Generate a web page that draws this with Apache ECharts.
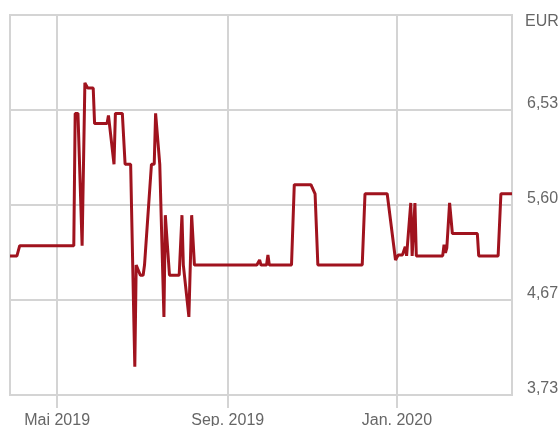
<!DOCTYPE html>
<html lang="de">
<head>
<meta charset="UTF-8">
<title>Kursverlauf</title>
<script src="https://cdn.jsdelivr.net/npm/echarts@6/dist/echarts.min.js"></script>
<style>
  html, body { margin: 0; padding: 0; background: #fff; }
  #box { width: 560px; height: 426px; }
</style>
</head>
<body>
<div id="box"></div>
<script>
    // Kursdaten (Datum, Kurs in EUR)
    var dates = [
        '2019-03-28','2019-04-02','2019-04-04','2019-05-13','2019-05-14','2019-05-16',
        '2019-05-19','2019-05-21','2019-05-22','2019-05-23','2019-05-27','2019-05-28',
        '2019-06-06','2019-06-07','2019-06-11','2019-06-12','2019-06-17','2019-06-19',
        '2019-06-23','2019-06-26','2019-06-27','2019-06-30','2019-07-02','2019-07-03',
        '2019-07-08','2019-07-10','2019-07-11','2019-07-14','2019-07-17','2019-07-18',
        '2019-07-21','2019-07-28','2019-07-30','2019-07-31','2019-08-04','2019-08-06',
        '2019-08-08','2019-09-22','2019-09-24','2019-09-25','2019-09-29','2019-09-30',
        '2019-10-01','2019-10-17','2019-10-19','2019-10-31','2019-11-03','2019-11-05',
        '2019-12-07','2019-12-09','2019-12-25','2019-12-31','2020-01-02','2020-01-05',
        '2020-01-07','2020-01-08','2020-01-11','2020-01-12','2020-01-14','2020-01-15',
        '2020-02-03','2020-02-04','2020-02-05','2020-02-06','2020-02-08','2020-02-10',
        '2020-02-28','2020-02-29','2020-03-14','2020-03-16','2020-03-24'
    ];
    var prices = [
        5.10, 5.10, 5.20, 5.20, 6.50, 6.50,
        5.20, 6.80, 6.80, 6.75, 6.75, 6.40,
        6.40, 6.48, 6.00, 6.50, 6.50, 6.00,
        6.00, 4.01, 5.01, 4.91, 4.91, 5.01,
        6.00, 6.00, 6.50, 6.00, 4.50, 5.50,
        4.91, 4.91, 5.50, 5.01, 4.50, 5.50,
        5.01, 5.01, 5.06, 5.01, 5.01, 5.11,
        5.01, 5.01, 5.80, 5.80, 5.71, 5.01,
        5.01, 5.71, 5.71, 5.06, 5.11, 5.11,
        5.19, 5.10, 5.62, 5.10, 5.62, 5.10,
        5.10, 5.21, 5.13, 5.18, 5.62, 5.32,
        5.32, 5.10, 5.10, 5.71, 5.71
    ];
    // Achsenbeschriftungen
    var xTickDates = ['2019-05-01', '2019-09-01', '2020-01-01'];
    var xTickLabels = ['Mai 2019', 'Sep. 2019', 'Jan. 2020'];
    var yStep = 2.8 / 3;   // 0,9333 EUR
    var yMin = 4 * yStep;  // 3,73
    var yMax = 8 * yStep;  // 7,47

    var xMin = new Date('2019-03-28').getTime();
    var xMax = new Date('2020-03-24').getTime();
    var tickTimes = xTickDates.map(function (d) { return new Date(d).getTime(); });

    var seriesData = [];
    for (var i = 0; i < dates.length; i++)
        seriesData.push([new Date(dates[i]).getTime(), prices[i]]);

    var gridColor = '#d4d4d4';
    var labelColor = '#666666';
    var font = 'Liberation Sans, Arial, sans-serif';

    var myChart = echarts.init(document.getElementById('box'));
    var option = {
        animation: false,
        grid: {
            left: 10, right: 48, top: 15, bottom: 31,
            containLabel: false,
            outerBoundsMode: 'none',
            show: true, borderColor: gridColor, borderWidth: 2
        },
        xAxis: {
            // Zeitstempel auf einer Wertachse, damit die Monatsmarken frei wählbar sind
            type: 'value',
            min: xMin,
            max: xMax,
            axisLine: { show: false },
            axisTick: {
                show: true, length: 13, customValues: tickTimes,
                lineStyle: { color: gridColor, width: 2 }
            },
            axisLabel: {
                customValues: tickTimes,
                margin: 18,
                color: labelColor,
                fontSize: 16,
                fontFamily: font,
                formatter: function (v) {
                    var idx = tickTimes.indexOf(v);
                    return idx >= 0 ? xTickLabels[idx] : '';
                }
            },
            splitLine: { show: true, lineStyle: { color: gridColor, width: 2 } }
        },
        yAxis: {
            type: 'value',
            position: 'right',
            min: yMin,
            max: yMax,
            interval: yStep,
            name: 'EUR',
            nameLocation: 'end',
            nameGap: -7,
            nameTextStyle: {
                color: labelColor, fontSize: 16, fontFamily: font,
                align: 'left', verticalAlign: 'middle', padding: [0, 0, 0, 13]
            },
            axisLine: { show: false },
            axisTick: { show: false },
            axisLabel: {
                margin: 15,
                color: labelColor,
                fontSize: 16,
                fontFamily: font,
                verticalAlign: 'bottom',
                lineHeight: 12,
                formatter: function (v) {
                    if (v > yMax - 0.01) return '';
                    return v.toFixed(2).replace('.', ',');
                }
            },
            splitLine: { show: true, lineStyle: { color: gridColor, width: 2 } }
        },
        series: [{
            type: 'line',
            data: seriesData,
            showSymbol: false,
            lineStyle: { color: '#a0131e', width: 3 },
            itemStyle: { color: '#a0131e' }
        }]
    };
    myChart.setOption(option);
</script>
</body>
</html>
